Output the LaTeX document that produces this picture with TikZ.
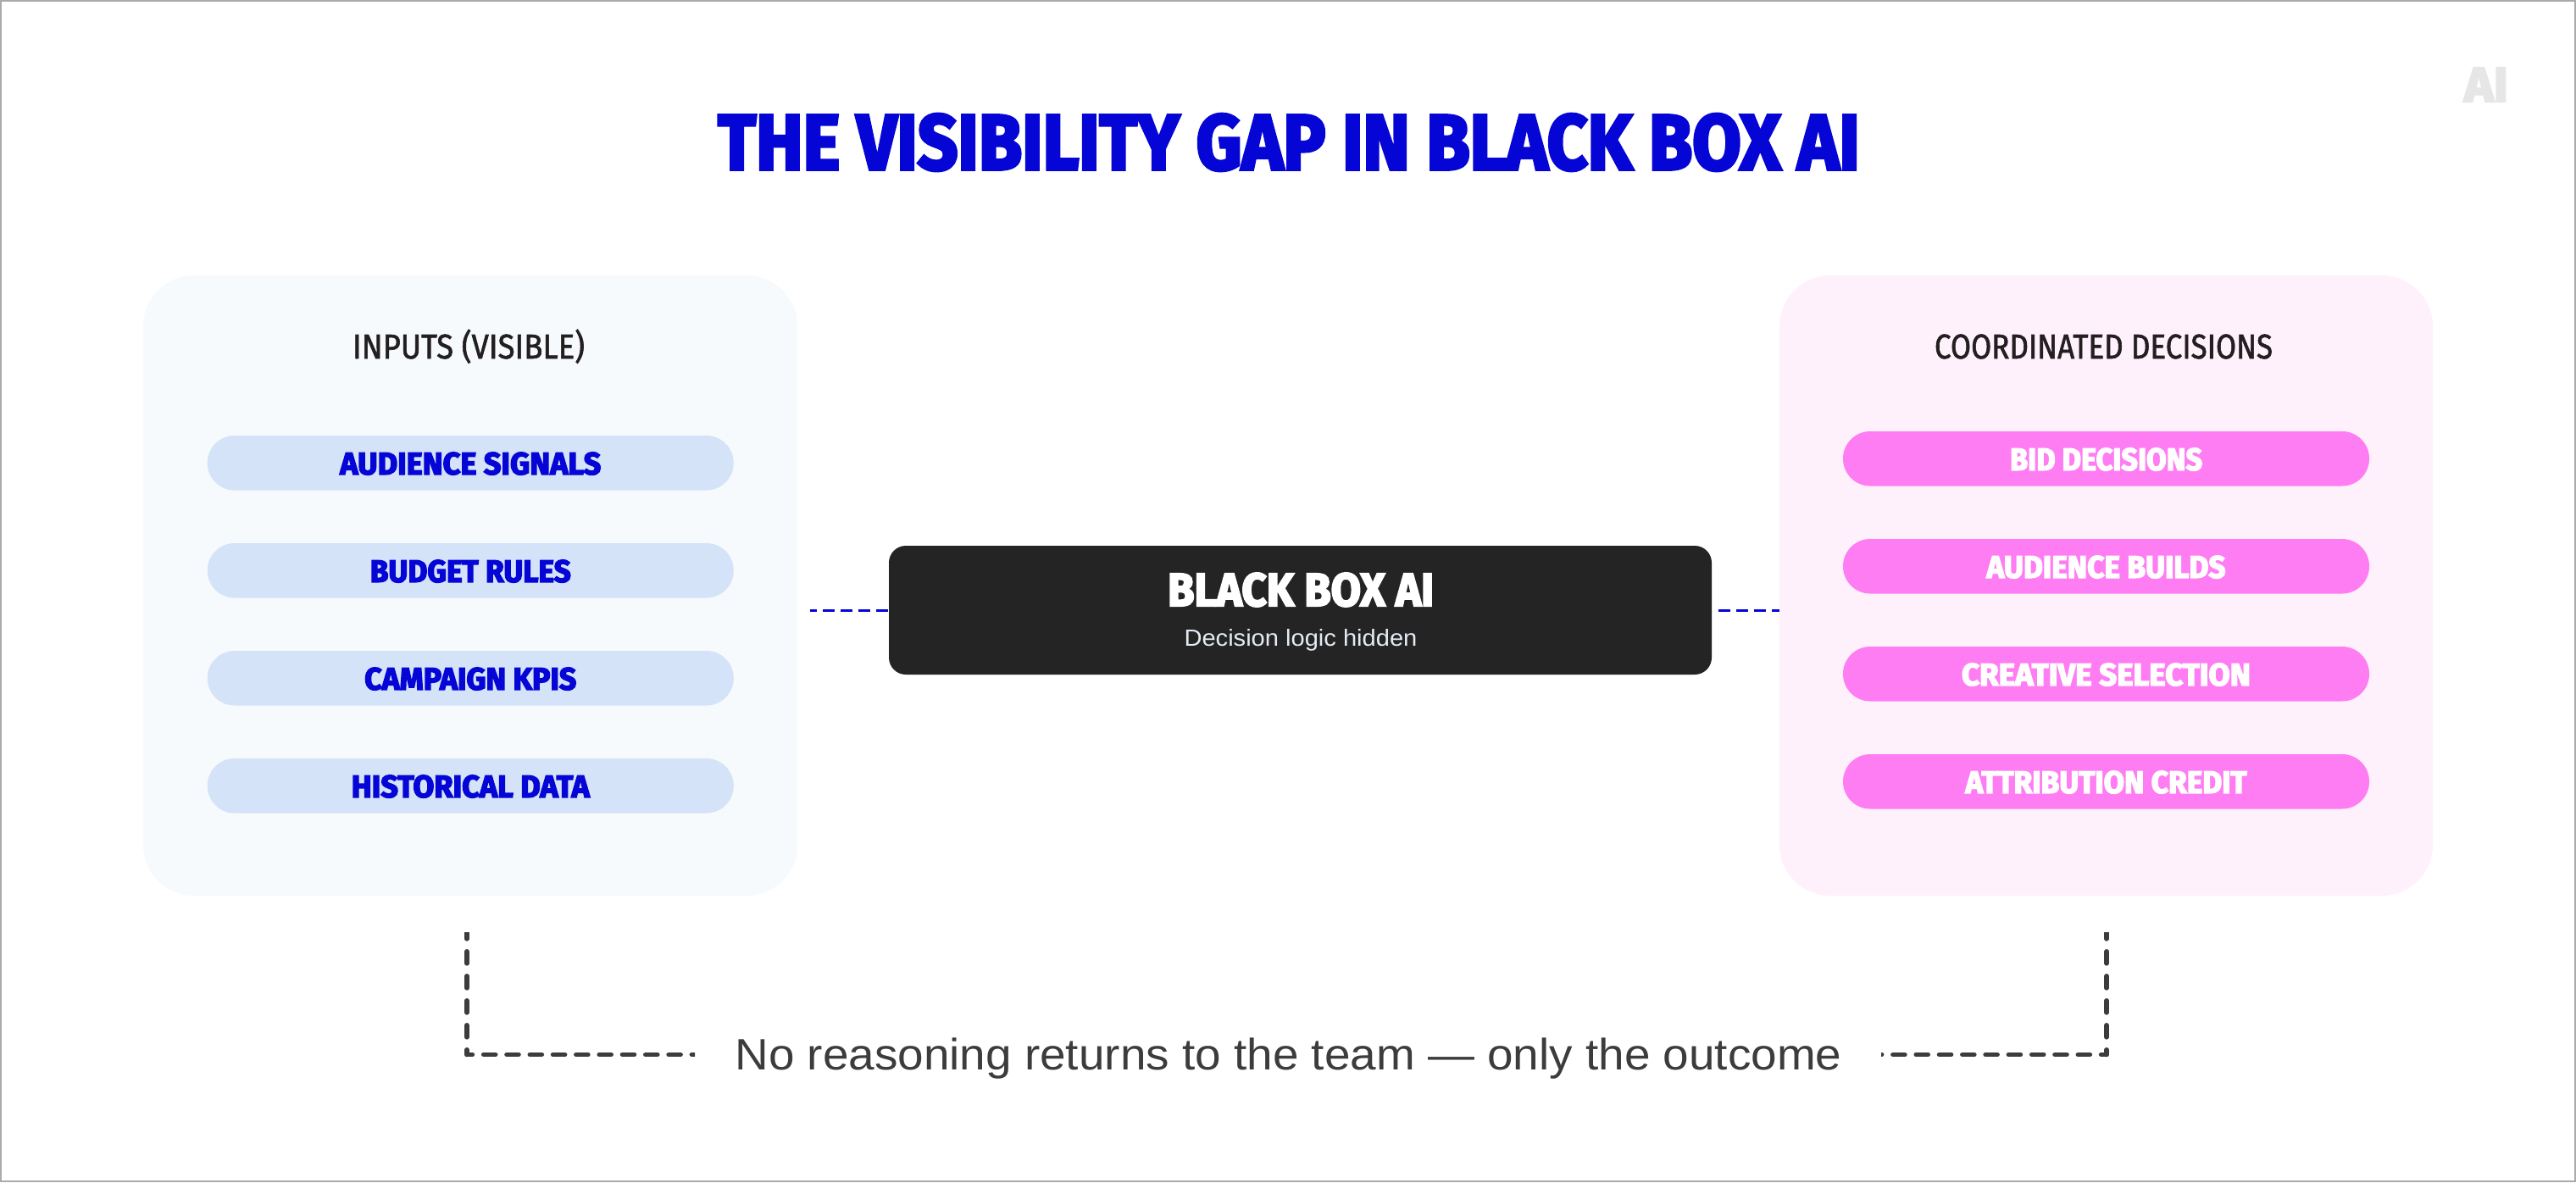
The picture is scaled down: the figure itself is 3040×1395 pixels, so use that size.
\documentclass[tikz,border=0pt]{standalone}
\usepackage{fontspec}
\usepackage{graphicx}
\newfontfamily\heavybase[BoldFeatures={FakeBold=4}]{Fira Sans}
\newcommand\heavyf{\heavybase\bfseries}
\newfontfamily\medf[FakeBold=1.6]{Fira Sans}
\newfontfamily\bodyf{Liberation Sans}
\newcommand\fit[4]{\resizebox{#1pt}{#2pt}{#3\raisebox{0pt}[\fontcharht\font`H][0pt]{#4}}}
\newcommand\pilltxt[2]{\raisebox{-13.55pt}[14pt][14pt]{\fit{#1}{25.5}{\heavyf}{#2}}}
\definecolor{titleblue}{HTML}{0505D6}
\definecolor{panelblue}{HTML}{F6FAFD}
\definecolor{panelpink}{HTML}{FEF1FC}
\definecolor{pillblue}{HTML}{D4E3F8}
\definecolor{pillpink}{HTML}{FF7DF3}
\definecolor{boxdark}{HTML}{242424}
\definecolor{headink}{HTML}{231F20}
\definecolor{noteink}{HTML}{3C3C3C}
\definecolor{subink}{HTML}{E4EBF5}
\definecolor{logoink}{HTML}{E6E6E6}
\definecolor{frameink}{HTML}{ABABAB}
\tikzset{
  panel/.style={draw=none,rounded corners=60pt,minimum width=#1,minimum height=732pt,inner sep=0pt},
  pillnode/.style={draw=none,rounded corners=32pt,minimum width=621pt,minimum height=64.5pt,inner sep=0pt},
  inpill/.style={pillnode,fill=pillblue,text=titleblue},
  outpill/.style={pillnode,fill=pillpink,text=white},
  txt/.style={inner sep=0pt,outer sep=0pt},
  gapline/.style={draw=titleblue,line width=3pt,dash pattern=on 14pt off 7pt},
  returnv/.style={draw=noteink,line width=5.6pt,line cap=round,dash pattern=on 14pt off 15pt,dash phase=0pt},
  returnh/.style={draw=noteink,line width=5.6pt,line cap=round,dash pattern=on 14pt off 13.3pt},
}
\begin{document}
\begin{tikzpicture}[x=1pt,y=-1pt]
\useasboundingbox (0,0) rectangle (3040,1395);
\fill[white] (0,0) rectangle (3040,1395);
\draw[frameink,line width=2pt] (1,1) rectangle (3039,1394);

\node[txt,text=titleblue] (title) at (1521,168) {\fit{1347}{64}{\heavyf}{THE VISIBILITY GAP IN BLACK BOX AI}};
\node[txt,text=logoink] (logo) at (2934,100) {\fit{52}{40}{\heavyf}{AI}};

\node[panel=772pt,fill=panelblue] (inpanel) at (555,691) {};
\node[panel=771pt,fill=panelpink] (outpanel) at (2485.5,691) {};

\node[txt,text=headink] (inhead) at (553,409) {\fit{274}{28}{\medf}{INPUTS (VISIBLE)}};
\node[txt,text=headink] (outhead) at (2482.5,409) {\fit{399}{28}{\medf}{COORDINATED DECISIONS}};

\node[inpill] (a1) at (555.25,546.25) {\pilltxt{308}{AUDIENCE SIGNALS}};
\node[inpill] (a2) at (555.25,673.25) {\pilltxt{237}{BUDGET RULES}};
\node[inpill] (a3) at (555.25,800.25) {\pilltxt{250}{CAMPAIGN KPIS}};
\node[inpill] (a4) at (555.25,927.25) {\pilltxt{281}{HISTORICAL DATA}};

\node[outpill] (b1) at (2485.5,541.25) {\pilltxt{227}{BID DECISIONS}};
\node[outpill] (b2) at (2485.5,668.25) {\pilltxt{282}{AUDIENCE BUILDS}};
\node[outpill] (b3) at (2485.5,795.25) {\pilltxt{341}{CREATIVE SELECTION}};
\node[outpill] (b4) at (2485.5,922.25) {\pilltxt{332}{ATTRIBUTION CREDIT}};

\node[draw=none,fill=boxdark,rounded corners=20pt,minimum width=971pt,minimum height=152pt,inner sep=0pt] (core) at (1534.5,720) {};
\node[txt,text=white] (coretitle) at (1535,696) {\fit{314}{38}{\heavyf}{BLACK BOX AI}};
\node[txt,text=subink] (coresub) at (1535,752.5) {\fit{275}{19}{\bodyf}{Decision logic hidden}};

\coordinate (lgap) at (956,720);
\coordinate (rgap) at (2028,720);
\draw[gapline,dash phase=6pt] (lgap) -- (core.west |- lgap);
\draw[gapline] (rgap) -- (outpanel.west |- rgap);

\node[txt,text=noteink] (note) at (1520.5,1244.5) {\fit{1306}{35.7}{\bodyf}{No reasoning returns to the team — only the outcome}};

\coordinate (lc) at (551,1244.4);
\coordinate (rc) at (2486,1244.4);
\coordinate (ltop) at (551,1100);
\coordinate (rtop) at (2486,1100);
\coordinate (lend) at (820,1244.4);
\coordinate (rend) at (2220,1244.4);
\begin{scope}
\clip (500,1100) rectangle (820,1300);
\draw[returnv,dash phase=8.4pt] (lc) -- (ltop);
\draw[returnh,dash phase=7.6pt] (lc) -- (lend);
\end{scope}
\begin{scope}
\clip (2220,1100) rectangle (2560,1300);
\draw[returnv,dash phase=8.4pt] (rc) -- (rtop);
\draw[returnh,dash phase=7.6pt] (rc) -- (rend);
\end{scope}
\end{tikzpicture}
\end{document}
